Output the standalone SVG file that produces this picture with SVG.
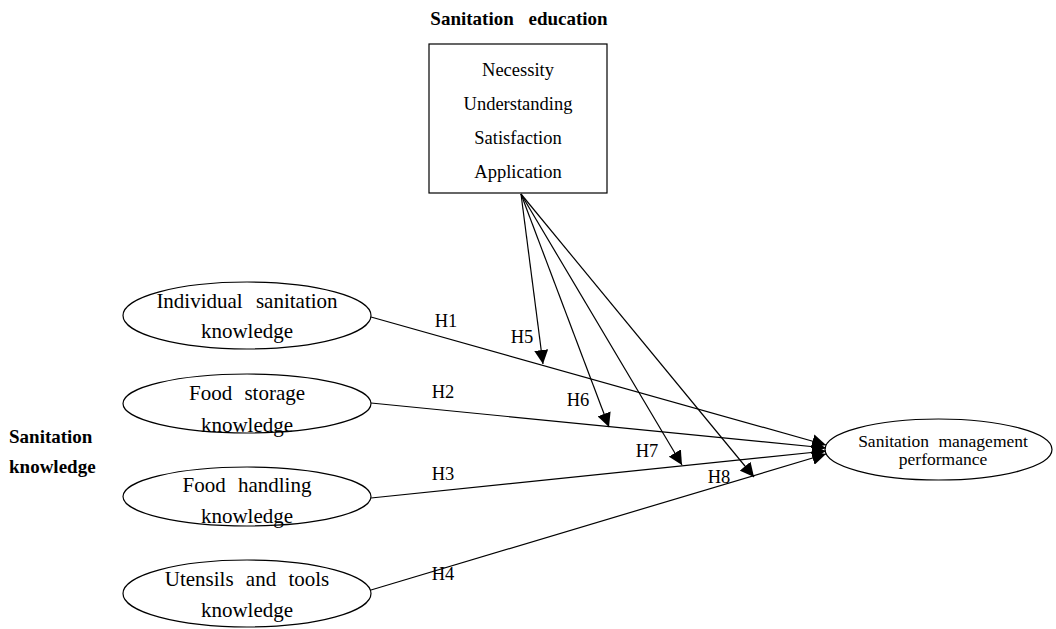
<svg xmlns="http://www.w3.org/2000/svg" width="1056" height="629" viewBox="0 0 1056 629">
<defs>
<style>
.t{font-family:"Liberation Serif","Times New Roman",serif;fill:#000;text-anchor:middle}
.b{font-weight:bold}
.s{fill:#fff;stroke:#000;stroke-width:1.2}
.c{fill:none;stroke:#000;stroke-width:1.2;marker-end:url(#ah)}
</style>
<marker id="ah" viewBox="0 0 14 14" refX="14" refY="7" markerWidth="14" markerHeight="14" markerUnits="userSpaceOnUse" orient="auto">
<path d="M0,0 L14,7 L0,14 z" fill="#000"/>
</marker>
</defs>
<rect width="1056" height="629" fill="#fff"/>
<text class="t b" x="519" y="25" font-size="19" style="word-spacing:10px">Sanitation education</text>
<text class="t b" x="9" y="443" font-size="19" style="text-anchor:start">Sanitation</text>
<text class="t b" x="9" y="473" font-size="19" style="text-anchor:start">knowledge</text>

<g id="edu">
<rect class="s" x="429" y="44" width="178" height="149"/>
<text class="t" x="518" y="76" font-size="18.5">Necessity</text>
<text class="t" x="518" y="110" font-size="18.5">Understanding</text>
<text class="t" x="518" y="144" font-size="18.5">Satisfaction</text>
<text class="t" x="518" y="178" font-size="18.5">Application</text>
</g>
<g id="k1">
<ellipse class="s" cx="247" cy="315.5" rx="124" ry="33.5"/>
<text class="t" x="247" y="308" font-size="21" style="word-spacing:8px">Individual sanitation</text>
<text class="t" x="247" y="338" font-size="21">knowledge</text>
</g>
<g id="k2">
<ellipse class="s" cx="247" cy="403.5" rx="124" ry="29.5"/>
<text class="t" x="247" y="400" font-size="21" style="word-spacing:7px">Food storage</text>
<text class="t" x="247" y="432" font-size="21">knowledge</text>
</g>
<g id="k3">
<ellipse class="s" cx="247" cy="496.5" rx="124" ry="29.5"/>
<text class="t" x="247" y="492" font-size="21" style="word-spacing:7px">Food handling</text>
<text class="t" x="247" y="523" font-size="21">knowledge</text>
</g>
<g id="k4">
<ellipse class="s" cx="247" cy="593.5" rx="124" ry="33.5"/>
<text class="t" x="247" y="586" font-size="21" style="word-spacing:7px">Utensils and tools</text>
<text class="t" x="247" y="617" font-size="21">knowledge</text>
</g>
<g id="perf">
<ellipse class="s" cx="938.5" cy="449.5" rx="113.5" ry="30.5"/>
<text class="t" x="943" y="447" font-size="17.5" style="word-spacing:5px">Sanitation management</text>
<text class="t" x="943" y="465" font-size="17.5">performance</text>
</g>

<g id="connectors">
<line class="c" x1="371" y1="317" x2="826" y2="445"/>
<line class="c" x1="371" y1="403" x2="826" y2="448"/>
<line class="c" x1="371" y1="498" x2="826" y2="451"/>
<line class="c" x1="371" y1="590" x2="826" y2="454"/>
<line class="c" x1="521" y1="194" x2="543" y2="364"/>
<line class="c" x1="521" y1="194" x2="609" y2="427"/>
<line class="c" x1="521" y1="194" x2="682" y2="465"/>
<line class="c" x1="521" y1="194" x2="754" y2="477"/>
</g>
<g id="labels" font-size="18.5">
<text class="t" x="446" y="327">H1</text>
<text class="t" x="522" y="343">H5</text>
<text class="t" x="443" y="398">H2</text>
<text class="t" x="578" y="406">H6</text>
<text class="t" x="647" y="457">H7</text>
<text class="t" x="443" y="480">H3</text>
<text class="t" x="719" y="483">H8</text>
<text class="t" x="443" y="580">H4</text>
</g>
</svg>
